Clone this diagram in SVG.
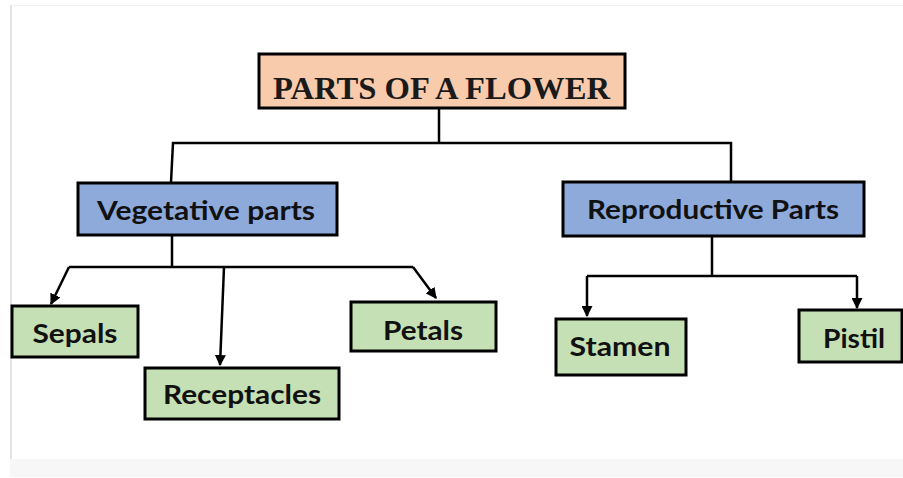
<svg xmlns="http://www.w3.org/2000/svg" width="903" height="478" viewBox="0 0 903 478">
  <style>
    .box { stroke: #000; stroke-width: 3; }
    .title { fill: #f8cbad; }
    .mid { fill: #8eaadb; }
    .leaf { fill: #c5e0b4; }
    .lbl { font-family: Lato, "Open Sans", "Liberation Sans", sans-serif; font-weight: bold; fill: #111; text-anchor: middle; }
    .ttl { font-family: "Liberation Serif", "DejaVu Serif", serif; font-weight: bold; fill: #1a1a1a; text-anchor: middle; }
    .wire { fill: none; stroke: #000; stroke-width: 2.5; stroke-linejoin: miter; }
  </style>
  <defs>
    <marker id="tip" viewBox="0 0 10 10" refX="9" refY="5" markerWidth="4.4" markerHeight="4.4" orient="auto" markerUnits="strokeWidth">
      <path d="M0,0 L10,5 L0,10 z" fill="#000"/>
    </marker>
  </defs>

  <!-- page frame -->
  <rect x="0" y="0" width="903" height="478" fill="#fff"/>
  <line x1="11" y1="5" x2="11" y2="459" stroke="#d8d8d8" stroke-width="1.5"/>
  <line x1="11" y1="5.5" x2="903" y2="5.5" stroke="#f2f2f2" stroke-width="1"/>
  <rect x="10" y="459" width="893" height="18" fill="#f7f7f7"/>

  <!-- connectors -->
  <g id="connectors">
    <path class="wire" d="M439,108 V143"/>
    <path class="wire" d="M171,182 L173,143 H731 V181"/>
    <path class="wire" d="M172,236 V267"/>
    <path class="wire" d="M69,267 H413"/>
    <path class="wire" d="M69,267 L51,304" marker-end="url(#tip)"/>
    <path class="wire" d="M224,267 L220,365" marker-end="url(#tip)"/>
    <path class="wire" d="M413,267 L436,298" marker-end="url(#tip)"/>
    <path class="wire" d="M712,237 V276"/>
    <path class="wire" d="M587,276 H857"/>
    <path class="wire" d="M587,276 V316" marker-end="url(#tip)"/>
    <path class="wire" d="M857,276 V308" marker-end="url(#tip)"/>
  </g>

  <g id="parts-of-a-flower">
    <rect class="box title" x="259" y="54" width="366" height="54"/>
    <text class="ttl" x="441.5" y="99" font-size="32" textLength="337" lengthAdjust="spacingAndGlyphs">PARTS OF A FLOWER</text>
  </g>

  <g id="vegetative-parts">
    <rect class="box mid" x="78" y="183" width="259" height="52"/>
    <text class="lbl" x="206" y="220" font-size="26" textLength="218" lengthAdjust="spacingAndGlyphs">Vegetative parts</text>
  </g>

  <g id="reproductive-parts">
    <rect class="box mid" x="563" y="182" width="301" height="54"/>
    <text class="lbl" x="713" y="219" font-size="26" textLength="252" lengthAdjust="spacingAndGlyphs">Reproductive Parts</text>
  </g>

  <g id="sepals">
    <rect class="box leaf" x="12" y="306" width="126" height="51"/>
    <text class="lbl" x="75" y="343" font-size="26" textLength="85" lengthAdjust="spacingAndGlyphs">Sepals</text>
  </g>

  <g id="receptacles">
    <rect class="box leaf" x="145" y="368" width="194" height="51"/>
    <text class="lbl" x="242" y="404" font-size="26" textLength="158" lengthAdjust="spacingAndGlyphs">Receptacles</text>
  </g>

  <g id="petals">
    <rect class="box leaf" x="351" y="302" width="145" height="49"/>
    <text class="lbl" x="423" y="340" font-size="26" textLength="80" lengthAdjust="spacingAndGlyphs">Petals</text>
  </g>

  <g id="stamen">
    <rect class="box leaf" x="556" y="319" width="130" height="56"/>
    <text class="lbl" x="620" y="356" font-size="26" textLength="101" lengthAdjust="spacingAndGlyphs">Stamen</text>
  </g>

  <g id="pistil">
    <rect class="box leaf" x="799" y="310" width="103" height="52"/>
    <text class="lbl" x="854" y="348" font-size="26" textLength="62" lengthAdjust="spacingAndGlyphs">Pistil</text>
  </g>
</svg>
